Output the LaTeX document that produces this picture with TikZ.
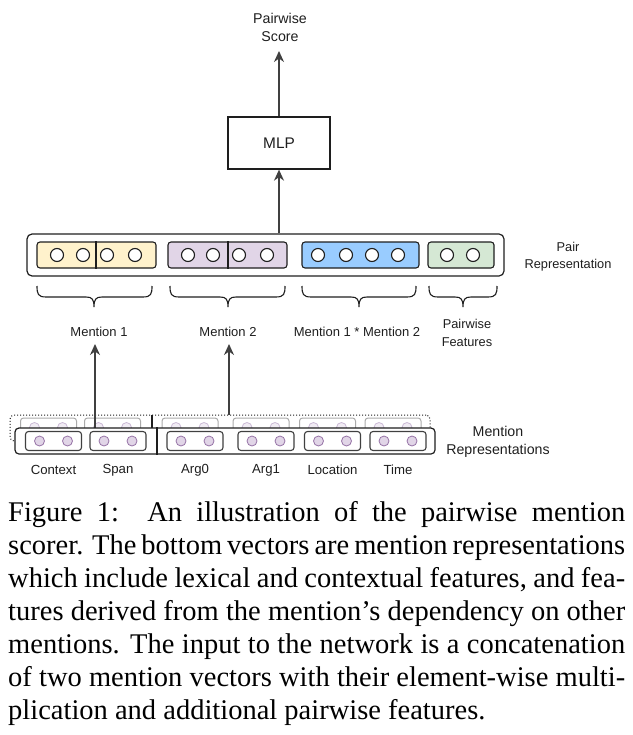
\documentclass[tikz,border=0pt]{standalone}
\usepackage{fontspec}
\setmainfont{Liberation Serif}
\newfontfamily\hv{Liberation Sans}
\usetikzlibrary{arrows.meta}
\definecolor{ink}{HTML}{1E1E1E}
\definecolor{yel}{HTML}{FFF2CC}
\definecolor{pur}{HTML}{E1D5E7}
\definecolor{blu}{HTML}{99CCFF}
\definecolor{grn}{HTML}{D5E8D4}
\definecolor{cfill}{HTML}{E1D5E7}
\definecolor{cdraw}{HTML}{9673A6}
\definecolor{bfill}{HTML}{F1ECF4}
\definecolor{bdraw}{HTML}{CBBAD6}
\definecolor{bbox}{HTML}{ABABAB}
\newcommand\dbrace[4]{%
  \draw[braceline] (#1,#4) .. controls (#1,#4+8) and (#1+1,#4+11) .. (#1+9,#4+11)
    -- (#2-8,#4+11) .. controls (#2-2,#4+11) and (#2,#4+13) .. (#2,#4+21)
    .. controls (#2,#4+13) and (#2+2,#4+11) .. (#2+8,#4+11)
    -- (#3-9,#4+11) .. controls (#3-1,#4+11) and (#3,#4+8) .. (#3,#4);}
\newcommand\capline[1]{\makebox[617pt][s]{#1}}
\begin{document}
\begin{tikzpicture}[x=1pt,y=-1pt,
  arr/.style={draw=ink!85, line width=1.4pt, -{Stealth[length=11pt,width=10pt,inset=3.5pt]}},
  braceline/.style={draw=ink, line width=1.1pt},
  lbl/.style={font=\hv\fontsize{13}{18}\selectfont, align=center, inner sep=0pt, text=ink},
  biglbl/.style={font=\hv\fontsize{14.2}{18}\selectfont, align=center, inner sep=0pt, text=ink},
  vec/.style={draw=ink, line width=1.1pt, rounded corners=3pt, minimum height=26pt, inner sep=0pt},
  pcirc/.style={circle, draw=ink, line width=1.1pt, fill=white, minimum size=13pt, inner sep=0pt},
  mbox/.style={draw=ink!85, line width=1.1pt, rounded corners=3pt, fill=white, minimum width=56pt, minimum height=19pt, inner sep=0pt},
  bkbox/.style={draw=bbox, line width=1pt, rounded corners=3pt, fill=white, minimum width=56pt, minimum height=19pt, inner sep=0pt},
  mcirc/.style={circle, draw=cdraw, line width=0.8pt, fill=cfill, minimum size=10pt, inner sep=0pt},
  bcirc/.style={circle, draw=bdraw, line width=0.8pt, fill=bfill, minimum size=10pt, inner sep=0pt},
  capt/.style={anchor=base west, inner sep=0pt, font=\fontsize{28.5}{33}\selectfont}
]
\useasboundingbox (0,0) rectangle (632,735);

% top
\node[biglbl] (score) at (280,27) {Pairwise\\Score};
\node[draw=ink, line width=1.3pt, minimum width=102pt, minimum height=52pt, inner sep=0pt,
      font=\hv\fontsize{15.4}{18}\selectfont, text=ink] (mlp) at (279,143) {MLP};
\coordinate (scoretip) at (279,51);
\draw[arr] (mlp.north) -- (scoretip);

% pair representation
\node[draw=ink, line width=1.2pt, rounded corners=5pt, minimum width=477pt, minimum height=42pt, inner sep=0pt] (pair) at (265.5,255) {};
\draw[arr] (pair.north -| mlp.south) -- (mlp.south);
\node[vec, fill=yel, minimum width=119pt] (v1) at (96.5,255) {};
\node[vec, fill=pur, minimum width=119pt] (v2) at (227.5,255) {};
\node[vec, fill=blu, minimum width=117pt] (v3) at (360.5,255) {};
\node[vec, fill=grn, minimum width=66pt] (v4) at (461,255) {};
\draw[draw=ink, line width=1.1pt] (v1.north -| 96,0) -- (v1.south -| 96,0);
\draw[draw=ink, line width=1.1pt] (v2.north -| 228,0) -- (v2.south -| 228,0);
\foreach \x in {57,83,107,135,188,213,239,267,318,346,372,398,447,473}
  \node[pcirc] (pc\x) at (\x,255) {};
\node[biglbl, font=\hv\fontsize{12.8}{17}\selectfont] (pairlbl) at (568,256.5) {Pair\\Representation};

% braces
\dbrace{37}{94}{152}{286}
\dbrace{170}{228}{285}{286}
\dbrace{302}{359}{416}{286}
\dbrace{429}{463}{497}{286}

\node[lbl] (m1) at (99,332) {Mention 1};
\node[lbl] (m2) at (228,332) {Mention 2};
\node[lbl] (m12) at (357,332) {Mention 1 * Mention 2};
\node[lbl, font=\hv\fontsize{12.8}{18}\selectfont] (pf) at (467,333) {Pairwise\\Features};

% mention representations: back layer
\node[draw=ink, dotted, line width=1pt, rounded corners=4pt, fill=white, minimum width=420pt, minimum height=26pt, inner sep=0pt] (back) at (220,428) {};
\draw[draw=ink, line width=1.1pt] (back.north -| 152,0) -- (back.south -| 152,0);
\foreach \c [count=\i] in {48.5,112.5,190,261,327.5,393}{
  \node[bkbox] (bb\i) at (\c,427.5) {};
  \node[bcirc] (bl\i) at (\c-14,427.5) {};
  \node[bcirc] (br\i) at (\c+14,427.5) {};
}
\coordinate (a2s) at (229,415);
\coordinate (a2e) at (229,344);
\draw[arr] (a2s) -- (a2e);
\coordinate (a1s) at (95,428);
\coordinate (a1e) at (95,344);
\draw[arr] (a1s) -- (a1e);

% front layer
\node[draw=ink, line width=1.2pt, rounded corners=4pt, fill=white, minimum width=420pt, minimum height=26pt, inner sep=0pt] (front) at (225,441) {};
\draw[draw=ink, line width=1.1pt] (front.north -| 157,0) -- (front.south -| 157,0);
\foreach \c/\t [count=\i] in {53.5/Context,118/Span,195/Arg0,266/Arg1,332.5/Location,398/Time}{
  \node[mbox] (fb\i) at (\c,441) {};
  \node[mcirc] (fl\i) at (\c-14,441) {};
  \node[mcirc] (fr\i) at (\c+14,441) {};
  \node[lbl, font=\hv\fontsize{13.2}{18}\selectfont] (t\i) at (\c,470) {\t};
}
\node[biglbl] (mreplbl) at (498,442) {Mention\\Representations};

% caption
\node[capt] (c1) at (8,521) {\capline{Figure 1:\ \ An illustration of the pairwise mention}};
\node[capt] (c2) at (8,554) {\capline{scorer. The bottom vectors are mention representations}};
\node[capt] (c3) at (8,587) {\capline{which include lexical and contextual features, and fea-}};
\node[capt] (c4) at (8,620) {\capline{tures derived from the mention’s dependency on other}};
\node[capt] (c5) at (8,653) {\capline{mentions. The input to the network is a concatenation}};
\node[capt] (c6) at (8,686) {\capline{of two mention vectors with their element-wise multi-}};
\node[capt] (c7) at (8,719) {plication and additional pairwise features.};
\end{tikzpicture}
\end{document}
